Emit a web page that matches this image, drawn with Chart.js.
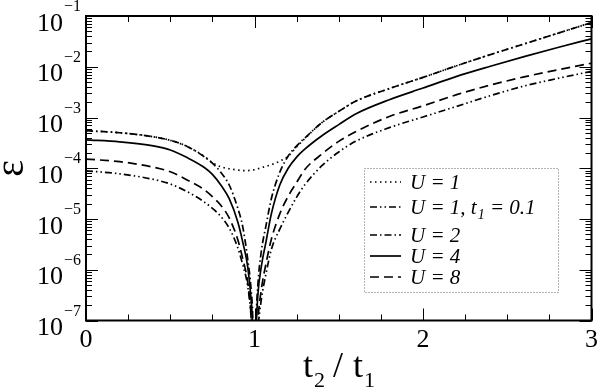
<!DOCTYPE html>
<html>
<head>
<meta charset="utf-8">
<script src="https://cdn.jsdelivr.net/npm/chart.js@4.4.0/dist/chart.umd.min.js"></script>
<style>
  html, body { margin: 0; padding: 0; background: #fff; }
</style>
</head>
<body>
<canvas id="grafico" width="599" height="390"></canvas>
<script>
// ---------------- data ----------------
// x = t2 / t1, y values stored as log10(epsilon); -9 stands for "below the axis" at the zero
const ratioT2T1 = [0, 0.2, 0.4, 0.5, 0.6, 0.7, 0.75, 0.8, 0.85, 0.9, 0.93, 0.96, 0.98, 0.99, 1.0,
  1.01, 1.02, 1.04, 1.07, 1.1, 1.15, 1.2, 1.25, 1.3, 1.4, 1.5, 1.6, 1.8, 2.0, 2.2, 2.4, 2.6, 2.8, 3.0];

const logEpsU1 = [-3.26, -3.30, -3.38, -3.45, -3.57, -3.76, -3.89, -3.97, -4.01, -4.035, -4.045, -4.045, -4.04, -4.035, -4.03,
  -4.02, -4.01, -3.99, -3.96, -3.93, -3.86, -3.76, -3.58, -3.41, -3.10, -2.88, -2.68, -2.43, -2.21, -1.98, -1.76, -1.55, -1.34, -1.13];
const logEpsU1t01 = [-4.05, -4.11, -4.22, -4.31, -4.46, -4.66, -4.79, -4.95, -5.18, -5.56, -5.9, -6.33, -6.95, -7.6, -9,
  -7.8, -7.2, -6.6, -6.05, -5.6, -5.2, -4.87, -4.57, -4.32, -3.95, -3.68, -3.47, -3.2, -2.99, -2.78, -2.57, -2.38, -2.23, -2.09];
const logEpsU2 = [-3.26, -3.30, -3.38, -3.45, -3.57, -3.77, -3.90, -4.08, -4.33, -4.78, -5.15, -5.8, -6.4, -7.0, -9,
  -7.0, -6.3, -5.65, -5.1, -4.6, -4.08, -3.76, -3.56, -3.40, -3.10, -2.88, -2.68, -2.43, -2.21, -1.98, -1.76, -1.55, -1.34, -1.13];
const logEpsU4 = [-3.44, -3.48, -3.56, -3.64, -3.79, -3.98, -4.12, -4.33, -4.60, -5.05, -5.45, -5.95, -6.6, -7.2, -9,
  -7.2, -6.5, -5.95, -5.42, -4.9, -4.33, -4.0, -3.78, -3.62, -3.36, -3.14, -2.93, -2.65, -2.42, -2.19, -1.99, -1.80, -1.62, -1.45];
const logEpsU8 = [-3.82, -3.87, -3.98, -4.07, -4.23, -4.42, -4.56, -4.73, -4.98, -5.4, -5.78, -6.25, -6.9, -7.5, -9,
  -7.6, -7.0, -6.4, -5.85, -5.4, -4.9, -4.55, -4.28, -4.02, -3.72, -3.47, -3.28, -2.98, -2.77, -2.55, -2.36, -2.20, -2.06, -1.93];

const seriesLabels = ["U = 1", "U = 1, t1 = 0.1", "U = 2", "U = 4", "U = 8"];
const xTickLabels = [0, 1, 2, 3];
const yTickExponents = [-1, -2, -3, -4, -5, -6, -7];

// ---------------- chart ----------------
const SERIF = '"Liberation Serif"';

function points(logs) {
  return ratioT2T1.map((t, i) => ({ x: t, y: Math.pow(10, logs[i]) }));
}

function line(label, logs, dash) {
  return {
    label: label,
    data: points(logs),
    borderColor: "#000",
    borderWidth: 1.7,
    borderDash: dash,
    pointRadius: 0,
    fill: false,
    cubicInterpolationMode: "monotone",
  };
}

const data = {
  datasets: [
    line(seriesLabels[0], logEpsU1, [1.5, 3.5]),
    line(seriesLabels[1], logEpsU1t01, [7, 3, 1.5, 3, 1.5, 3]),
    line(seriesLabels[2], logEpsU2, [7, 3, 1.5, 3]),
    line(seriesLabels[3], logEpsU4, []),
    line(seriesLabels[4], logEpsU8, [9, 5]),
  ],
};

// draws frame, inward ticks on all four sides, labels, titles and the legend box
const decorPlugin = {
  id: "decor",
  afterDraw(chart) {
    const { ctx, chartArea: a, scales } = chart;
    const xs = scales.x, ys = scales.y;
    ctx.save();
    ctx.strokeStyle = "#000";
    ctx.fillStyle = "#000";

    // x ticks, major every 1, minor every 0.25
    ctx.lineWidth = 1;
    ctx.beginPath();
    for (let k = 0; k <= 12; k++) {
      const v = k * 0.25;
      const len = k % 4 === 0 ? 12 : 6;
      const px = Math.round(xs.getPixelForValue(v)) + 0.5;
      ctx.moveTo(px, a.bottom); ctx.lineTo(px, a.bottom - len);
      ctx.moveTo(px, a.top); ctx.lineTo(px, a.top + len);
    }
    // y ticks, log decades with minors 2..9
    yTickExponents.forEach((e) => {
      for (let m = 1; m <= 9; m++) {
        if (e === -1 && m > 1) break;
        const py = Math.round(ys.getPixelForValue(m * Math.pow(10, e))) + 0.5;
        const len = m === 1 ? 12 : 6;
        ctx.moveTo(a.left, py); ctx.lineTo(a.left + len, py);
        ctx.moveTo(a.right, py); ctx.lineTo(a.right - len, py);
      }
    });
    ctx.stroke();

    // frame
    ctx.lineWidth = 2;
    ctx.strokeRect(a.left, a.top, a.right - a.left, a.bottom - a.top);

    // x tick labels
    ctx.font = "26px " + SERIF;
    ctx.textAlign = "center";
    ctx.textBaseline = "alphabetic";
    xTickLabels.forEach((v) => {
      ctx.fillText(String(v), xs.getPixelForValue(v), a.bottom + 26);
    });

    // y tick labels 10^e
    yTickExponents.forEach((e) => {
      const py = ys.getPixelForValue(Math.pow(10, e));
      ctx.font = "26px " + SERIF;
      ctx.textAlign = "right";
      ctx.fillText("10", 63, py + 14.5);
      ctx.font = "16px " + SERIF;
      ctx.textAlign = "left";
      ctx.fillText("\u2212" + Math.abs(e), 64, py - 5);
    });

    // y title
    ctx.save();
    ctx.translate(23, a.top + (a.bottom - a.top) / 2);
    ctx.rotate(-Math.PI / 2);
    ctx.font = "40px " + SERIF;
    ctx.textAlign = "center";
    ctx.fillText("\u03b5", 0, 0);
    ctx.restore();

    // x title t2 / t1
    ctx.textAlign = "left";
    let tx = 303;
    const base = 377;
    const big = "36px " + SERIF, small = "22px " + SERIF;
    ctx.font = big; ctx.fillText("t", tx, base); tx += ctx.measureText("t").width + 1;
    ctx.font = small; ctx.fillText("2", tx, base + 10); tx += ctx.measureText("2").width + 8;
    ctx.font = big; ctx.fillText("/", tx, base); tx += ctx.measureText("/").width + 10;
    ctx.fillText("t", tx, base); tx += ctx.measureText("t").width + 1;
    ctx.font = small; ctx.fillText("1", tx, base + 10);

    // legend
    const box = { x: 364.5, y: 168.5, w: 194, h: 124 };
    ctx.strokeStyle = "#666";
    ctx.lineWidth = 1;
    ctx.setLineDash([1, 2]);
    ctx.strokeRect(box.x, box.y, box.w, box.h);
    const rowY = [182, 207, 235, 256, 277];
    chart.data.datasets.forEach((ds, i) => {
      const y = rowY[i];
      ctx.strokeStyle = "#000";
      ctx.lineWidth = ds.borderWidth;
      ctx.setLineDash(ds.borderDash);
      ctx.beginPath();
      ctx.moveTo(370, y); ctx.lineTo(401, y);
      ctx.stroke();
      ctx.setLineDash([]);
      // label with subscripts after "t"
      let lx = 410;
      const parts = ds.label.split(/(t\d)/);
      parts.forEach((p) => {
        if (/^t\d$/.test(p)) {
          ctx.font = "italic 21px " + SERIF;
          ctx.fillText("t", lx, y + 7); lx += ctx.measureText("t").width + 1;
          ctx.font = "italic 14px " + SERIF;
          ctx.fillText(p[1], lx, y + 12); lx += ctx.measureText(p[1]).width;
        } else if (p) {
          ctx.font = "italic 21px " + SERIF;
          ctx.fillText(p, lx, y + 7); lx += ctx.measureText(p).width;
        }
      });
    });
    ctx.restore();
  },
};

const config = {
  type: "line",
  data: data,
  options: {
    responsive: false,
    animation: false,
    layout: { padding: { left: 86, right: 7.5, top: 16, bottom: 69.5 } },
    plugins: { legend: { display: false }, tooltip: { enabled: false } },
    scales: {
      x: { type: "linear", min: 0, max: 3, display: false },
      y: { type: "logarithmic", min: 1e-7, max: 1e-1, display: false },
    },
  },
  plugins: [decorPlugin],
};

const grafico = new Chart(document.getElementById("grafico"), config);
</script>
</body>
</html>
